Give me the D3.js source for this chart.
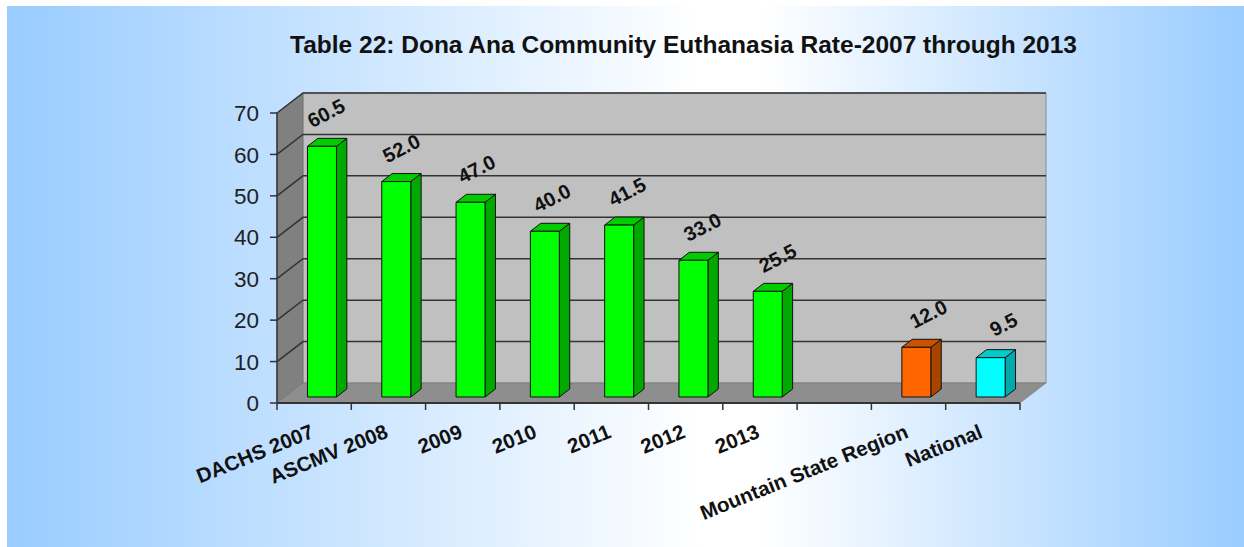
<!DOCTYPE html>
<html>
<head>
<meta charset="utf-8">
<script src="https://cdn.jsdelivr.net/npm/d3@7"></script>
<style>
  html, body { margin: 0; padding: 0; background: #fff; }
  svg { display: block; font-family: Arial, "Liberation Sans", sans-serif; }
</style>
</head>
<body>
<svg id="chart" width="1244" height="547"></svg>
<script>
// chart data
const categories = ["DACHS 2007", "ASCMV 2008", "2009", "2010", "2011", "2012", "2013", " ", "Mountain State Region", "National"];
const values = [60.5, 52.0, 47.0, 40.0, 41.5, 33.0, 25.5, null, 12.0, 9.5];
const yTicks = [0, 10, 20, 30, 40, 50, 60, 70];
const title = "Table 22: Dona Ana Community Euthanasia Rate-2007 through 2013";

// face colours: front, side, top
const barColors = [
  ["#00ff00", "#00a800", "#00cc00"],
  ["#00ff00", "#00a800", "#00cc00"],
  ["#00ff00", "#00a800", "#00cc00"],
  ["#00ff00", "#00a800", "#00cc00"],
  ["#00ff00", "#00a800", "#00cc00"],
  ["#00ff00", "#00a800", "#00cc00"],
  ["#00ff00", "#00a800", "#00cc00"],
  null,
  ["#ff6600", "#a84400", "#cc5200"],
  ["#00ffff", "#00aaaa", "#00cccc"]
];

const svg = d3.select("#chart");

// background
const grad = svg.append("defs").append("linearGradient")
  .attr("id", "bg").attr("x1", 0).attr("x2", 1).attr("y1", 0).attr("y2", 0);
grad.append("stop").attr("offset", "0%").attr("stop-color", "#99ccff");
grad.append("stop").attr("offset", "56%").attr("stop-color", "#ffffff");
grad.append("stop").attr("offset", "61%").attr("stop-color", "#ffffff");
grad.append("stop").attr("offset", "100%").attr("stop-color", "#99ccff");
svg.append("rect").attr("x", 7).attr("y", 6).attr("width", 1237).attr("height", 541)
  .attr("fill", "url(#bg)");

// title
svg.append("text")
  .attr("x", 683.5).attr("y", 52.5)
  .attr("text-anchor", "middle")
  .attr("font-size", 24.5).attr("font-weight", "bold").attr("fill", "#111")
  .text(title);

// 3d frame
const x0 = 277, x1 = 1020;
const dx = 26, dy = -20; // depth offset
const x = d3.scaleBand().domain(categories).range([x0, x1]).paddingInner(0).paddingOuter(0);
const y = d3.scaleLinear().domain([0, 70]).range([403, 113]);

const line = d3.line();

// back wall
svg.append("path")
  .attr("d", line([[x0 + dx, y(70) + dy], [x1 + dx, y(70) + dy], [x1 + dx, y(0) + dy], [x0 + dx, y(0) + dy]]) + "Z")
  .attr("fill", "#c0c0c0").attr("stroke", "#8a8a8a").attr("stroke-width", 1);
// side wall
svg.append("path")
  .attr("d", line([[x0, y(70)], [x0 + dx, y(70) + dy], [x0 + dx, y(0) + dy], [x0, y(0)]]) + "Z")
  .attr("fill", "#808080").attr("stroke", "#666").attr("stroke-width", 0.5);
// floor
svg.append("path")
  .attr("d", line([[x0, y(0)], [x0 + dx, y(0) + dy], [x1 + dx, y(0) + dy], [x1, y(0)]]) + "Z")
  .attr("fill", "#8e8e8e").attr("stroke", "#6a6a6a").attr("stroke-width", 0.5);

// gridlines
const grid = svg.append("g").attr("stroke", "#333").attr("stroke-width", 1.5).attr("fill", "none");
yTicks.filter(t => t > 0).forEach(t => {
  grid.append("path").attr("d", line([[x0, y(t)], [x0 + dx, y(t) + dy], [x1 + dx, y(t) + dy]]));
});

// y axis
const yAxis = svg.append("g");
yAxis.append("line").attr("x1", x0).attr("x2", x0).attr("y1", y(70)).attr("y2", y(0))
  .attr("stroke", "#333").attr("stroke-width", 1.5);
yAxis.selectAll(".ytick").data(yTicks).enter().append("line")
  .attr("x1", x0 - 7).attr("x2", x0).attr("y1", d => y(d)).attr("y2", d => y(d))
  .attr("stroke", "#333").attr("stroke-width", 1.5);
yAxis.selectAll(".ylab").data(yTicks).enter().append("text")
  .attr("x", 259).attr("y", d => y(d)).attr("dy", "0.36em")
  .attr("text-anchor", "end").attr("font-size", 22.5).attr("fill", "#222")
  .text(d => d);

// x axis
const xAxis = svg.append("g");
xAxis.append("line").attr("x1", x0).attr("x2", x1).attr("y1", y(0)).attr("y2", y(0))
  .attr("stroke", "#333").attr("stroke-width", 2);
const edges = categories.map(c => x(c)).concat([x1]);
xAxis.selectAll(".xtick").data(edges).enter().append("line")
  .attr("x1", d => d).attr("x2", d => d).attr("y1", y(0)).attr("y2", y(0) + 7)
  .attr("stroke", "#333").attr("stroke-width", 1.5);
xAxis.selectAll(".xlab").data(categories).enter().append("text")
  .attr("transform", d => `translate(${x(d) + x.bandwidth() / 2 + 1},${437}) rotate(-22)`)
  .attr("text-anchor", "end").attr("font-size", 20.5).attr("font-weight", "bold").attr("fill", "#111")
  .text(d => d);

// bars
const bw = x.bandwidth() * 0.39;
const fx = dx * 0.3, fy = dy * 0.3;   // front face depth
const sx = dx * 0.4, sy = dy * 0.4;   // bar depth
const bars = svg.append("g").attr("stroke", "#111").attr("stroke-width", 1).attr("stroke-linejoin", "round");

categories.forEach((c, i) => {
  const v = values[i];
  if (v == null) return;
  const col = barColors[i];
  const xl = x(c) + x.bandwidth() / 2 - bw / 2 + fx;
  const xr = xl + bw;
  const yt = y(v) + fy, yb = y(0) + fy;
  const g = bars.append("g");
  g.append("path").attr("d", line([[xr, yt], [xr + sx, yt + sy], [xr + sx, yb + sy], [xr, yb]]) + "Z").attr("fill", col[1]);
  g.append("path").attr("d", line([[xl, yt], [xr, yt], [xr + sx, yt + sy], [xl + sx, yt + sy]]) + "Z").attr("fill", col[2]);
  g.append("rect").attr("x", xl).attr("y", yt).attr("width", bw).attr("height", yb - yt).attr("fill", col[0]);

  // label drifts slightly right across the plot, as in the source
  const lx = (xl + xr) / 2 + 7 + 0.013 * (xl - x0);
  svg.append("text")
    .attr("transform", `translate(${lx},${yt - 27}) rotate(-27)`)
    .attr("text-anchor", "middle").attr("font-size", 20).attr("font-weight", "bold").attr("fill", "#111")
    .text(v.toFixed(1));
});
</script>
</body>
</html>
